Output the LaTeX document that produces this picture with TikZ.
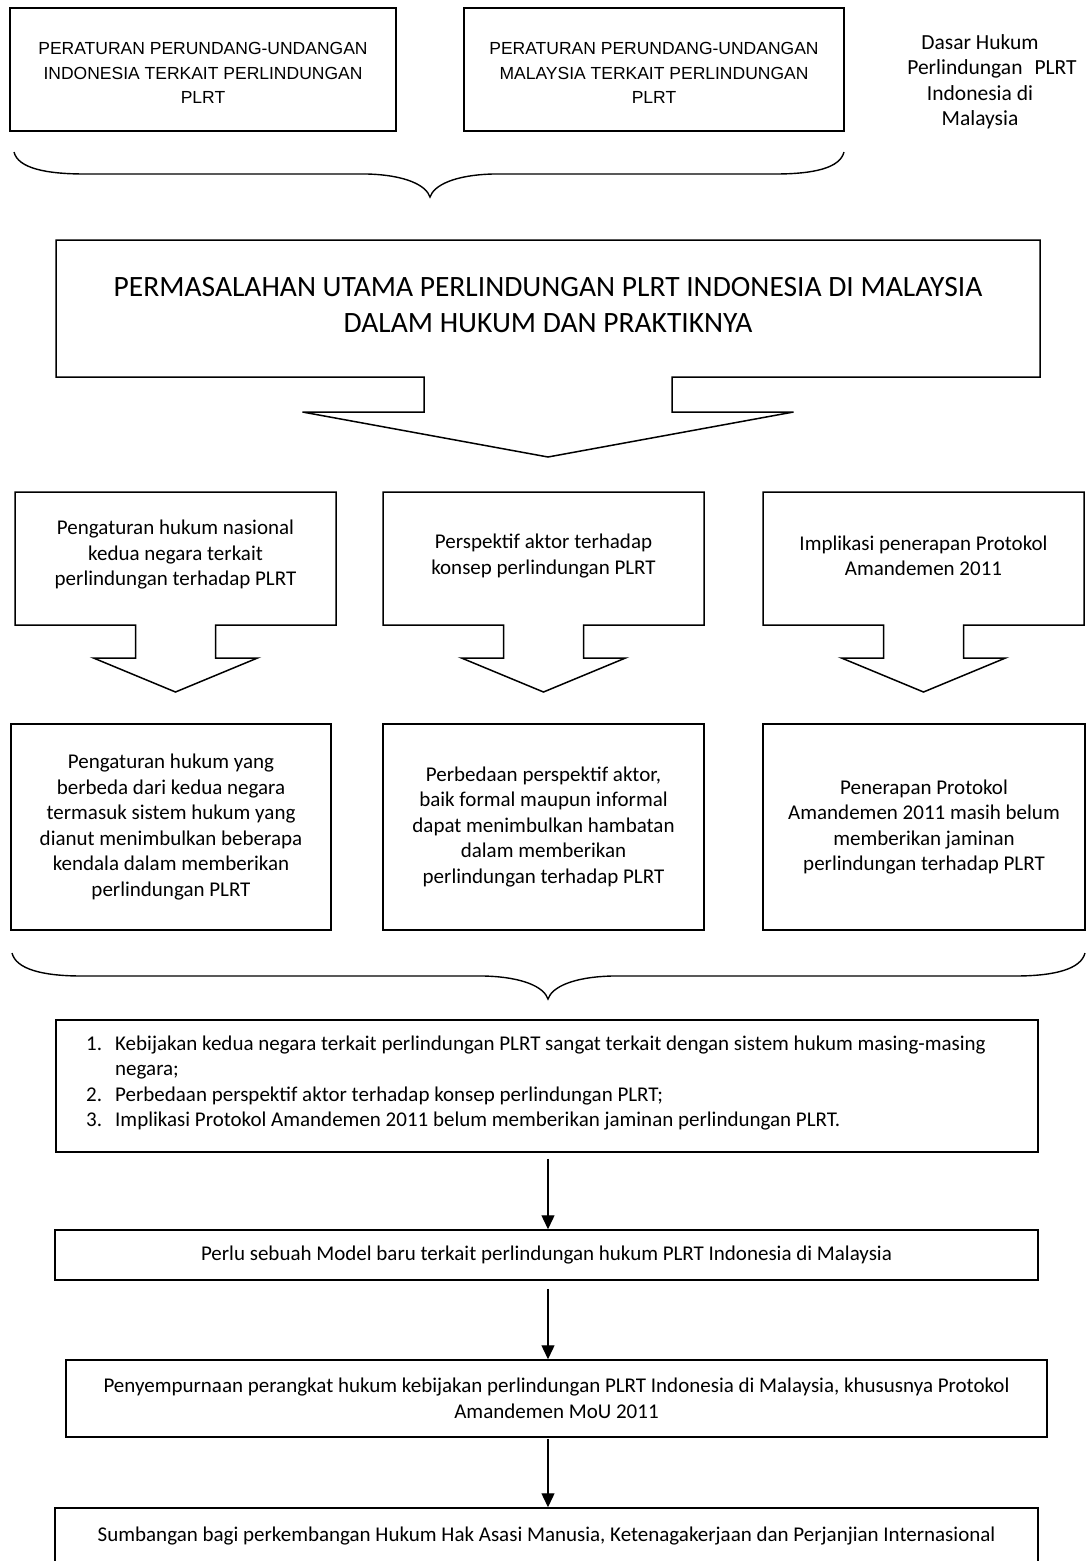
\documentclass[tikz,border=0pt]{standalone}
\usepackage{fontspec}
\setmainfont{Carlito}
\newfontfamily\arialf{Liberation Sans}
\usetikzlibrary{arrows.meta}
\newcommand{\calloutpath}[9]{\draw[shapeline] (#1,#2) -- (#3,#2) -- (#3,#4) -- ({#5+#6},#4) -- ({#5+#6},#7) -- ({#5+#8},#7) -- (#5,#9) -- ({#5-#8},#7) -- ({#5-#6},#7) -- ({#5-#6},#4) -- (#1,#4) -- cycle;}
\begin{document}
\begin{tikzpicture}[x=1pt,y=-1pt,
 shapeline/.style={line width=1.5pt, line join=miter},
 boxr/.style={draw, line width=1.5pt, inner sep=0pt, rectangle},
 fa/.style={font=\arialf\fontsize{17.5pt}{24.5pt}\selectfont, align=center, inner sep=0pt},
 fc/.style={font=\fontsize{21pt}{25.5pt}\selectfont, align=center, inner sep=0pt},
 fside/.style={font=\fontsize{21.5pt}{25.5pt}\selectfont, align=center, inner sep=0pt},
 fbig/.style={font=\fontsize{29.5pt}{36pt}\selectfont, align=center, inner sep=0pt},
 arr/.style={line width=1.3pt, -{Triangle[length=14pt,width=13pt]}},
 bracestyle/.style={line width=1.4pt}]
\useasboundingbox (0,0) rectangle (1086,1561);
\fill[white] (0,0) rectangle (1086,1561);
\clip (0,0) rectangle (1086,1561);

% top boxes
\node[boxr, minimum width=386, minimum height=123] (t1) at (203,69.5) {};
\node[fa] (t1txt) at (203,73) {PERATURAN PERUNDANG-UNDANGAN\\INDONESIA TERKAIT PERLINDUNGAN\\PLRT};
\node[boxr, minimum width=380, minimum height=123] (t2) at (654,69.5) {};
\node[fa] (t2txt) at (654,73) {PERATURAN PERUNDANG-UNDANGAN\\MALAYSIA TERKAIT PERLINDUNGAN\\PLRT};
\node[fside] (side) at (980,82) {Dasar Hukum\\\hspace*{24pt}Perlindungan\hspace{12pt}PLRT\\Indonesia di\\Malaysia};

% brace 1
\draw[bracestyle] (14,152) .. controls (18,168) and (45,174) .. (85,174) -- (367,174)
  .. controls (405,175) and (426,185) .. (430,197)
  .. controls (434,185) and (455,175) .. (493,174) -- (775,174)
  .. controls (814,174) and (840,168) .. (844,152);

% big callout
\calloutpath{56}{240}{1040}{377}{548}{124}{412}{245.5}{457}
\node[fbig] (big) at (548,305.5)
  {PERMASALAHAN UTAMA PERLINDUNGAN PLRT INDONESIA DI MALAYSIA\\DALAM HUKUM DAN PRAKTIKNYA};

% middle callouts
\calloutpath{15}{492}{336}{625}{175.5}{40}{658}{82}{692}
\node[fc] (ma) at (175.5,555) {Pengaturan hukum nasional\\kedua negara terkait\\perlindungan terhadap PLRT};
\calloutpath{383}{492}{704}{625}{543.5}{40}{658}{82}{692}
\node[fc] (mb) at (543.5,556) {Perspektif aktor terhadap\\konsep perlindungan PLRT};
\calloutpath{763}{492}{1084}{625}{923.5}{40}{658}{82}{692}
\node[fc] (mc) at (923.5,556) {Implikasi penerapan Protokol\\Amandemen 2011};

% bottom row boxes
\node[boxr, fc, minimum width=320, minimum height=206] (ba) at (171,827)
  {Pengaturan hukum yang\\berbeda dari kedua negara\\termasuk sistem hukum yang\\dianut menimbulkan beberapa\\kendala dalam memberikan\\perlindungan PLRT};
\node[boxr, fc, minimum width=321, minimum height=206] (bb) at (543.5,827)
  {Perbedaan perspektif aktor,\\baik formal maupun informal\\dapat menimbulkan hambatan\\dalam memberikan\\perlindungan terhadap PLRT};
\node[boxr, fc, minimum width=322, minimum height=206] (bc) at (924,827)
  {Penerapan Protokol\\Amandemen 2011 masih belum\\memberikan jaminan\\perlindungan terhadap PLRT};

% brace 2
\draw[bracestyle] (12,953) .. controls (16,969) and (42,976) .. (82,976) -- (484,976)
  .. controls (523,977) and (544,987) .. (548,999)
  .. controls (552,987) and (573,977) .. (612,976) -- (1015,976)
  .. controls (1055,976) and (1081,969) .. (1085,953);

% list box
\node[boxr, minimum width=982, minimum height=132] (lst) at (547,1086) {};
\node[fc, align=left, anchor=west] (lsttxt) at (86,1083)
  {\makebox[29pt][l]{1.}Kebijakan kedua negara terkait perlindungan PLRT sangat terkait dengan sistem hukum masing-masing\\
   \hspace*{29pt}negara;\\
   \makebox[29pt][l]{2.}Perbedaan perspektif aktor terhadap konsep perlindungan PLRT;\\
   \makebox[29pt][l]{3.}Implikasi Protokol Amandemen 2011 belum memberikan jaminan perlindungan PLRT.};

% chain boxes
\node[boxr, fc, minimum width=983, minimum height=50] (perlu) at (546.5,1255)
  {Perlu sebuah Model baru terkait perlindungan hukum PLRT Indonesia di Malaysia};
\node[boxr, fc, minimum width=981, minimum height=77] (peny) at (556.5,1398.5)
  {Penyempurnaan perangkat hukum kebijakan perlindungan PLRT Indonesia di Malaysia, khususnya Protokol\\Amandemen MoU 2011};
\node[boxr, fc, minimum width=983, minimum height=56] (sumb) at (546.5,1536)
  {Sumbangan bagi perkembangan Hukum Hak Asasi Manusia, Ketenagakerjaan dan Perjanjian Internasional};

% arrows
\coordinate (ax) at (548,0);
\path (lst.south -| ax) ++(0,6) coordinate (a1);
\path (perlu.south -| ax) ++(0,8) coordinate (a2);
\path (peny.south -| ax) ++(0,1) coordinate (a3);
\draw[arr] (a1) -- (perlu.north -| ax);
\draw[arr] (a2) -- (peny.north -| ax);
\draw[arr] (a3) -- (sumb.north -| ax);
\end{tikzpicture}
\end{document}
